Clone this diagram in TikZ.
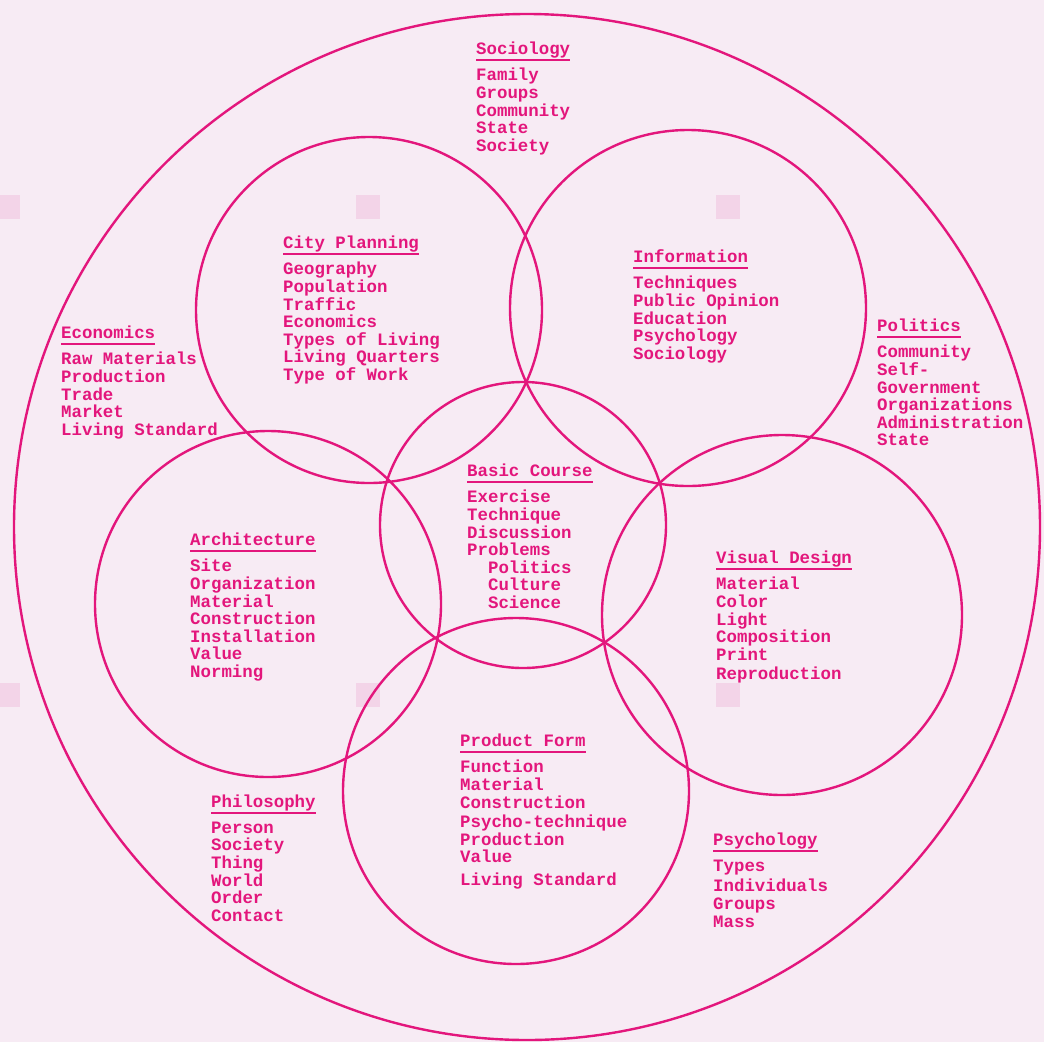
\documentclass[tikz,border=0pt]{standalone}
\usepackage{fontspec}
\setmonofont{Liberation Mono}
\definecolor{bgpink}{HTML}{F7EBF4}
\definecolor{sqpink}{HTML}{F3D4E8}
\definecolor{ink}{HTML}{E3167C}
\tikzset{
  ring/.style={draw=ink, line width=2.4pt},
  ttl/.style={inner sep=0pt, anchor=base west, text=ink, font=\fontsize{17.4}{17.6}\selectfont\ttfamily\bfseries},
  itm/.style={inner sep=0pt, anchor=north west, align=left, text=ink, font=\fontsize{17.4}{17.6}\selectfont\ttfamily\bfseries},
  ul/.style={draw=ink, line width=1.8pt},
  sq/.style={fill=sqpink, draw=none}
}
\newcommand{\Tstrut}{\rule{0pt}{12pt}}
\newcommand{\ind}{\hspace*{20.9pt}}
\newcommand{\topic}[5]{%
  \node[ttl] (#1t) at (#2,#3) {#4};
  \draw[ul] ([yshift=-6pt]#1t.base west) -- ([yshift=-6pt]#1t.base east);
  \node[itm] (#1) at (#2,#3+14) {\Tstrut#5};
}
\begin{document}
\begin{tikzpicture}[x=1pt,y=-1pt]
\fill[bgpink] (0,0) rectangle (1044,1042);
\useasboundingbox (0,0) rectangle (1044,1042);
% faint squares
\foreach \sy in {195,683}{
  \fill[sq] (0,\sy) rectangle (20,\sy+24);
  \foreach \sx in {356,716}{
    \fill[sq] (\sx,\sy) rectangle (\sx+24,\sy+24);
  }
}
% circles
\node[ring, circle, minimum size=1026pt, inner sep=0pt] (outer) at (527,527) {};
\node[ring, circle, minimum size=346pt, inner sep=0pt] (city) at (369,310) {};
\node[ring, circle, minimum size=356pt, inner sep=0pt] (info) at (688,308) {};
\node[ring, circle, minimum size=286pt, inner sep=0pt] (basic) at (523,525) {};
\node[ring, circle, minimum size=346pt, inner sep=0pt] (arch) at (268,604) {};
\node[ring, circle, minimum size=360pt, inner sep=0pt] (vis) at (782,615) {};
\node[ring, circle, minimum size=346pt, inner sep=0pt] (prod) at (516,791) {};
% texts
\topic{soc}{476}{54}{Sociology}{Family\\Groups\\Community\\State\\Society}
\topic{cit}{283}{248}{City Planning}{Geography\\Population\\Traffic\\Economics\\Types of Living\\Living Quarters\\Type of Work}
\topic{inf}{633}{262}{Information}{Techniques\\Public Opinion\\Education\\Psychology\\Sociology}
\topic{eco}{61}{338}{Economics}{Raw Materials\\Production\\Trade\\Market\\Living Standard}
\topic{pol}{877}{331}{Politics}{Community\\Self-\\Government\\Organizations\\Administration\\State}
\topic{bas}{467}{476}{Basic Course}{Exercise\\Technique\\Discussion\\Problems\\\ind Politics\\\ind Culture\\\ind Science}
\topic{arc}{190}{545}{Architecture}{Site\\Organization\\Material\\Construction\\Installation\\Value\\Norming}
\topic{vis}{716}{563}{Visual Design}{Material\\Color\\Light\\Composition\\Print\\[2pt]Reproduction}
\topic{pro}{460}{746}{Product Form}{Function\\Material\\Construction\\[2pt]Psycho-technique\\Production\\Value\\[5pt]Living Standard}
\topic{phi}{211}{807}{Philosophy}{Person\\Society\\Thing\\World\\Order\\Contact}
\topic{psy}{713}{845}{Psychology}{Types\\[3pt]Individuals\\Groups\\Mass}
\end{tikzpicture}
\end{document}
